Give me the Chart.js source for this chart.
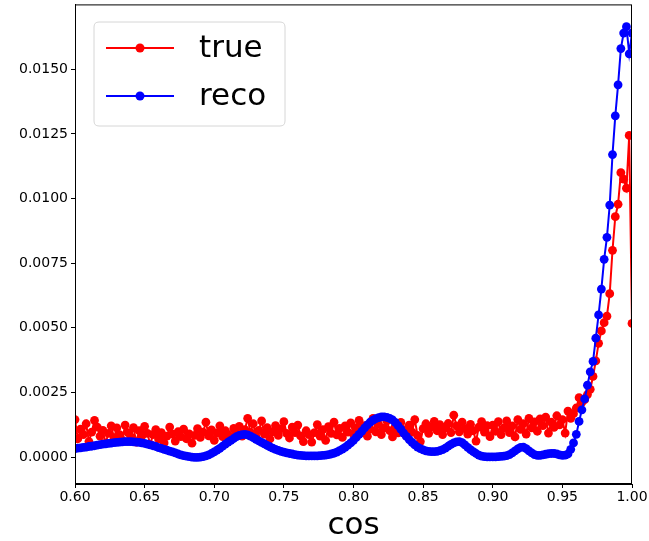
<!DOCTYPE html>
<html>
<head>
<meta charset="UTF-8">
<title>true vs reco</title>
<script src="https://cdn.jsdelivr.net/npm/chart.js@4"></script>
<style>
html,body{margin:0;padding:0;background:#fff}
#c{display:block}
</style>
</head>
<body>
<canvas id="c" width="649" height="541"></canvas>
<script>
// bin centres in cos, 0.600 .. 1.000 step 0.002
const COS_BINS = Array.from({length:201},(_,i)=>+(0.6+0.002*i).toFixed(3));

const TRUE_VALS = [
  0.00145,0.00071,0.00108,0.00087,0.00129,0.00060,0.00097,0.00142,0.00116,0.00081,
  0.00103,0.00054,0.00092,0.00121,0.00074,0.00113,0.00087,0.00066,0.00124,0.00095,
  0.00078,0.00114,0.00058,0.00102,0.00082,0.00119,0.00092,0.00049,0.00087,0.00106,
  0.00070,0.00095,0.00055,0.00081,0.00116,0.00089,0.00062,0.00098,0.00079,0.00108,
  0.00071,0.00090,0.00054,0.00084,0.00110,0.00076,0.00097,0.00135,0.00082,0.00105,
  0.00065,0.00094,0.00121,0.00079,0.00102,0.00087,0.00073,0.00111,0.00092,0.00119,
  0.00081,0.00106,0.00150,0.00095,0.00129,0.00078,0.00103,0.00140,0.00089,0.00114,
  0.00070,0.00098,0.00122,0.00084,0.00110,0.00137,0.00092,0.00074,0.00116,0.00095,
  0.00124,0.00082,0.00060,0.00102,0.00087,0.00058,0.00095,0.00126,0.00081,0.00106,
  0.00065,0.00118,0.00092,0.00135,0.00086,0.00111,0.00076,0.00121,0.00097,0.00132,
  0.00089,0.00114,0.00142,0.00095,0.00122,0.00081,0.00108,0.00150,0.00098,0.00127,
  0.00087,0.00113,0.00140,0.00102,0.00078,0.00119,0.00094,0.00134,0.00106,0.00082,
  0.00124,0.00097,0.00145,0.00084,0.00060,0.00110,0.00129,0.00092,0.00116,0.00138,
  0.00102,0.00126,0.00087,0.00113,0.00130,0.00095,0.00162,0.00121,0.00098,0.00135,
  0.00110,0.00089,0.00127,0.00102,0.00062,0.00116,0.00137,0.00097,0.00122,0.00079,
  0.00124,0.00100,0.00137,0.00087,0.00113,0.00140,0.00095,0.00121,0.00078,0.00145,
  0.00107,0.00129,0.00089,0.00150,0.00113,0.00136,0.00100,0.00148,0.00122,0.00155,
  0.00093,0.00135,0.00115,0.00160,0.00125,0.00145,0.00093,0.00178,0.00150,0.00168,
  0.00190,0.00230,0.00212,0.00222,0.00242,0.00262,0.00312,0.00372,0.00440,0.00488,
  0.00520,0.00545,0.00632,0.00800,0.00930,0.00978,0.01100,0.01075,0.01040,0.01244,
  0.00517
];

const RECO_VALS = [
  0.00033,0.00035,0.00036,0.00038,0.00039,0.00041,0.00042,0.00044,0.00046,0.00048,
  0.00050,0.00051,0.00053,0.00054,0.00056,0.00057,0.00058,0.00059,0.00060,0.00060,
  0.00060,0.00059,0.00058,0.00057,0.00055,0.00053,0.00050,0.00047,0.00044,0.00041,
  0.00037,0.00034,0.00030,0.00027,0.00023,0.00020,0.00016,0.00012,0.00009,0.00006,
  0.00004,0.00002,0.00000,-0.00001,-0.00001,0.00000,0.00002,0.00005,0.00009,0.00014,
  0.00020,0.00027,0.00034,0.00042,0.00050,0.00058,0.00065,0.00072,0.00079,0.00084,
  0.00087,0.00088,0.00086,0.00081,0.00075,0.00069,0.00063,0.00057,0.00051,0.00045,
  0.00040,0.00035,0.00030,0.00026,0.00022,0.00019,0.00016,0.00014,0.00012,0.00010,
  0.00008,0.00007,0.00006,0.00005,0.00005,0.00005,0.00005,0.00005,0.00006,0.00007,
  0.00008,0.00010,0.00012,0.00015,0.00019,0.00025,0.00031,0.00038,0.00046,0.00055,
  0.00065,0.00076,0.00088,0.00100,0.00113,0.00125,0.00135,0.00143,0.00149,0.00153,
  0.00156,0.00156,0.00154,0.00150,0.00144,0.00134,0.00122,0.00108,0.00093,0.00080,
  0.00068,0.00057,0.00047,0.00039,0.00033,0.00028,0.00024,0.00022,0.00021,0.00021,
  0.00022,0.00025,0.00029,0.00035,0.00042,0.00049,0.00055,0.00059,0.00060,0.00056,
  0.00047,0.00038,0.00029,0.00021,0.00014,0.00008,0.00004,0.00002,0.00001,0.00001,
  0.00001,0.00001,0.00002,0.00003,0.00004,0.00006,0.00010,0.00016,0.00024,0.00032,
  0.00038,0.00039,0.00033,0.00024,0.00016,0.00010,0.00007,0.00007,0.00009,0.00011,
  0.00013,0.00014,0.00014,0.00012,0.00009,0.00007,0.00008,0.00012,0.00030,0.00055,
  0.00088,0.00138,0.00183,0.00225,0.00278,0.00330,0.00370,0.00460,0.00550,0.00650,
  0.00765,0.00850,0.00975,0.01170,0.01320,0.01440,0.01580,0.01640,0.01665,0.01560,
  0.01640
];

const X_TICKS = [0.60,0.65,0.70,0.75,0.80,0.85,0.90,0.95,1.00];
const Y_TICKS = [0.0000,0.0025,0.0050,0.0075,0.0100,0.0125,0.0150];
const SERIES_NAMES = ["true","reco"];
const SERIES_COLORS = ["#ff0000","#0000ff"];

const FONT = "'DejaVu Sans', sans-serif";

const pts = vals => COS_BINS.map((x,i)=>({x, y:vals[i]}));

const framePlugin = {
  id:"frame",
  afterDraw(chart){
    const {ctx, chartArea:a} = chart;
    ctx.save();
    ctx.strokeStyle = "#000"; ctx.lineWidth = 1;
    ctx.strokeRect(a.left+0.5, a.top+0.5, a.right-a.left-1, a.bottom-a.top-1);

    // x axis title
    ctx.fillStyle = "#000";
    ctx.font = "31px " + FONT;
    ctx.textAlign = "center"; ctx.textBaseline = "middle";
    ctx.fillText("cos", (a.left+a.right)/2, 526);

    // legend box
    const bx=94, by=22, bw=191, bh=104, r=5;
    ctx.beginPath();
    ctx.moveTo(bx+r,by); ctx.lineTo(bx+bw-r,by); ctx.quadraticCurveTo(bx+bw,by,bx+bw,by+r);
    ctx.lineTo(bx+bw,by+bh-r); ctx.quadraticCurveTo(bx+bw,by+bh,bx+bw-r,by+bh);
    ctx.lineTo(bx+r,by+bh); ctx.quadraticCurveTo(bx,by+bh,bx,by+bh-r);
    ctx.lineTo(bx,by+r); ctx.quadraticCurveTo(bx,by,bx+r,by); ctx.closePath();
    ctx.fillStyle = "rgba(255,255,255,0.8)"; ctx.fill();
    ctx.strokeStyle = "#d6d6d6"; ctx.stroke();

    SERIES_NAMES.forEach((name,i)=>{
      const yy = 48 + i*48;
      ctx.strokeStyle = SERIES_COLORS[i]; ctx.lineWidth = 2;
      ctx.beginPath(); ctx.moveTo(106,yy); ctx.lineTo(174,yy); ctx.stroke();
      ctx.fillStyle = SERIES_COLORS[i];
      ctx.beginPath(); ctx.arc(140,yy,4.5,0,Math.PI*2); ctx.fill();
      ctx.fillStyle = "#000"; ctx.font = "31px " + FONT;
      ctx.textAlign = "left"; ctx.textBaseline = "middle";
      ctx.fillText(name, 199, yy+1);
    });
    ctx.restore();
  }
};

new Chart(document.getElementById("c"), {
  type:"line",
  data:{
    datasets:[
      {label:SERIES_NAMES[1], data:pts(RECO_VALS), borderColor:SERIES_COLORS[1], backgroundColor:SERIES_COLORS[1],
       borderWidth:2, pointRadius:4.4, pointBorderWidth:0, tension:0, order:0},
      {label:SERIES_NAMES[0], data:pts(TRUE_VALS), borderColor:SERIES_COLORS[0], backgroundColor:SERIES_COLORS[0],
       borderWidth:2, pointRadius:4.4, pointBorderWidth:0, tension:0, order:1}
    ]
  },
  options:{
    responsive:false, animation:false, devicePixelRatio:1,
    layout:{padding:{left:0,right:17,top:4,bottom:0}},
    plugins:{legend:{display:false}, tooltip:{enabled:false}},
    scales:{
      x:{
        type:"linear", min:0.6, max:1.0,
        afterFit:s=>{s.height=57; s.paddingLeft=0; s.paddingRight=0;},
        afterBuildTicks:s=>{s.ticks=X_TICKS.map(v=>({value:v}));},
        ticks:{color:"#000", font:{family:FONT,size:14}, padding:1, maxRotation:0,
               callback:v=>Number(v).toFixed(2)},
        grid:{display:true, drawOnChartArea:false, color:"#000", tickLength:4},
        border:{display:true, color:"#000", width:1}
      },
      y:{
        type:"linear", min:-0.00104, max:0.01751,
        afterFit:s=>{s.width=75; s.paddingTop=0; s.paddingBottom=0;},
        afterBuildTicks:s=>{s.ticks=Y_TICKS.map(v=>({value:v}));},
        ticks:{color:"#000", font:{family:FONT,size:14}, padding:3,
               callback:v=>Number(v).toFixed(4)},
        grid:{display:true, drawOnChartArea:false, color:"#000", tickLength:4},
        border:{display:true, color:"#000", width:1}
      }
    }
  },
  plugins:[framePlugin]
});
</script>
</body>
</html>
